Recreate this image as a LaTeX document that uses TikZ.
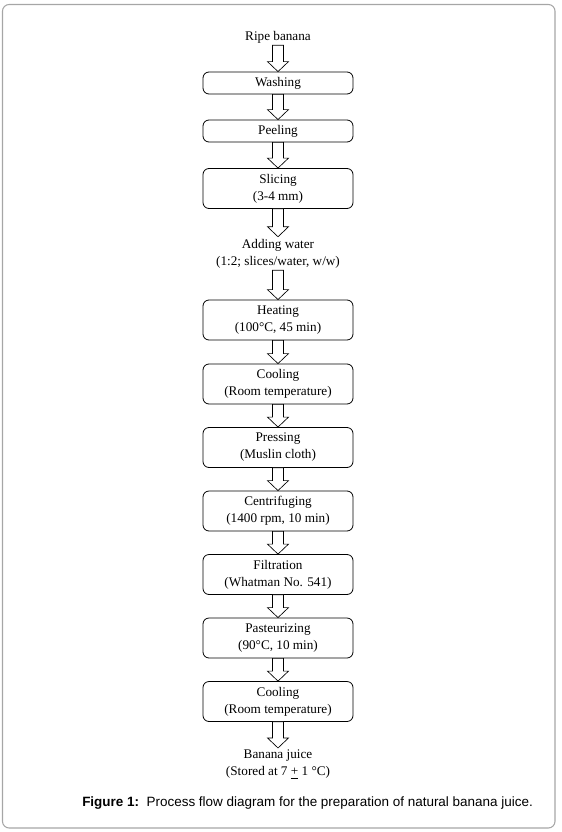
\documentclass[tikz,border=0pt]{standalone}
\usepackage{fontspec}
\setmainfont{Liberation Serif}
\newfontfamily\capfont{Liberation Sans}
\usetikzlibrary{calc}

\begin{document}
\begin{tikzpicture}[x=0.75pt,y=-0.75pt,
   txt/.style={font=\fontsize{9.9}{12.75}\selectfont},
   stepbox/.style={txt,draw,line width=0.6pt,rounded corners=4.5pt,
     minimum width=112.5pt,minimum height=16.5pt,align=center,inner sep=1pt},
   tallbox/.style={stepbox,minimum height=30pt},
   plaintext/.style={txt,align=center,inner sep=1.5pt},
   flow/.style={draw,line width=0.5pt,fill=white}]
   % frame
   \useasboundingbox (0,0) rectangle (561,832);
   \draw[gray!70,line width=0.8pt,rounded corners=5pt] (2.5,4.5) rectangle (555,828);
   % steps
   \node[plaintext] (ripe) at (278,37) {Ripe banana};
   \node[stepbox] (wash) at (278,83) {Washing};
   \node[stepbox] (peel) at (278,131) {Peeling};
   \node[tallbox] (slice) at (278,188.5) {Slicing\\(3-4 mm)};
   \node[plaintext] (water) at (278,253.5) {Adding water\\(1:2; slices/water, w/w)};
   \node[tallbox] (heat) at (278,320) {Heating\\(100\textdegree C, 45 min)};
   \node[tallbox] (cool) at (278,384) {Cooling\\(Room temperature)};
   \node[tallbox] (press) at (278,447.5) {Pressing\\(Muslin cloth)};
   \node[tallbox] (centri) at (278,511) {Centrifuging\\(1400 rpm, 10 min)};
   \node[tallbox] (filter) at (278,574.5) {Filtration\\(Whatman No. 541)};
   \node[tallbox] (pasteur) at (278,638) {Pasteurizing\\(90\textdegree C, 10 min)};
   \node[tallbox] (cool2) at (278,701.5) {Cooling\\(Room temperature)};
   \node[plaintext] (juice) at (278,764.5) {Banana juice\\(Stored at 7 \underline{+} 1 \textdegree C)};
   % block arrows
   \foreach \a/\b in {ripe/wash,wash/peel,peel/slice,slice/water,water/heat,
     heat/cool,cool/press,press/centri,centri/filter,filter/pasteur,
     pasteur/cool2,cool2/juice} {
    \draw[flow] ($(\a.south)+(-5.5,0)$) -- ($(\a.south)+(5.5,0)$)
      -- ($(\b.north)+(5.5,-10)$) -- ($(\b.north)+(10.5,-10)$) -- (\b.north)
      -- ($(\b.north)+(-10.5,-10)$) -- ($(\b.north)+(-5.5,-10)$) -- cycle;
   }
   % caption
   \node[anchor=west,inner sep=0pt,font=\capfont\fontsize{10.1}{12}\selectfont] (cap) at (82,803)
     {\textbf{Figure 1:}\ \ Process flow diagram for the preparation of natural banana juice.};
\end{tikzpicture}
\end{document}
